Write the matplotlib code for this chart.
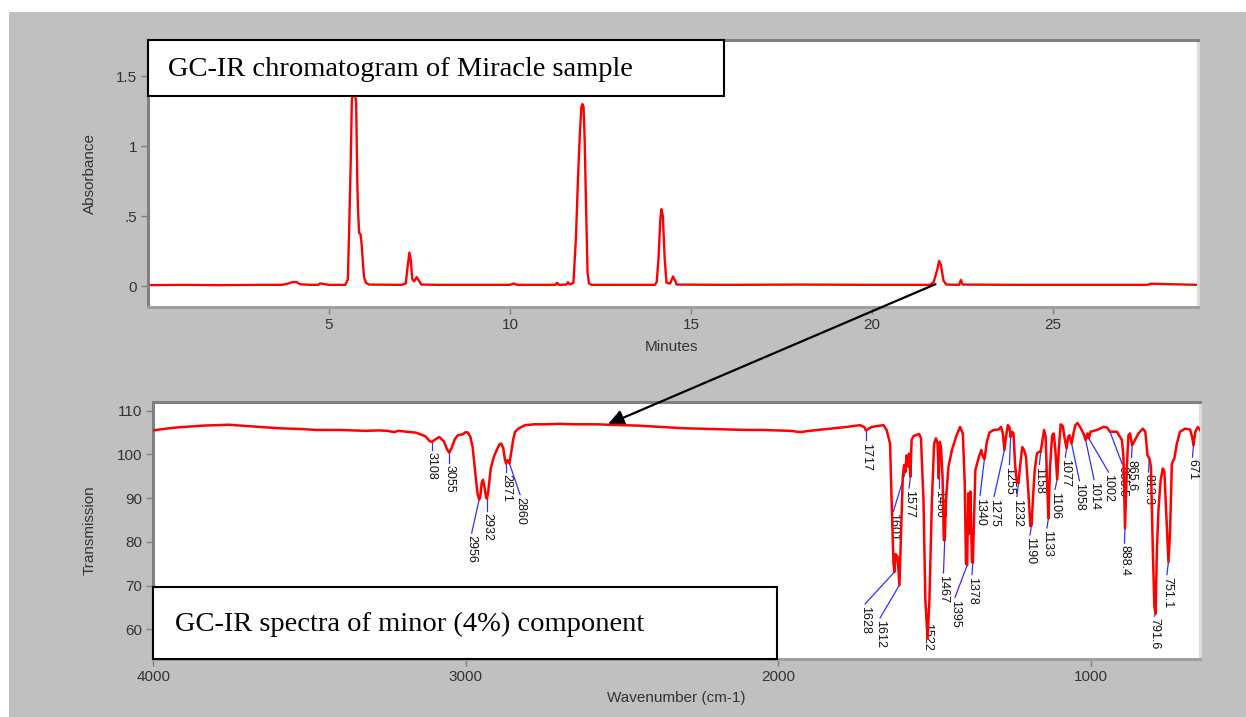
import matplotlib
matplotlib.use('Agg')
import matplotlib.pyplot as plt
from matplotlib.patches import Rectangle

# ---- GC chromatogram (minutes, absorbance) ----
gc_time = [0.0, 1.0, 2.0, 3.0, 3.7, 3.85, 4.0, 4.1, 4.2, 4.5, 4.7, 4.75, 5.0, 5.45,
           5.52, 5.56, 5.6, 5.63, 5.66, 5.72, 5.75, 5.78, 5.8, 5.83, 5.87, 5.9, 5.94,
           5.97, 6.02, 6.1, 7.0, 7.12, 7.17, 7.22, 7.26, 7.3, 7.35, 7.42, 7.48, 7.55,
           8.0, 9.0, 10.0, 10.1, 10.2, 11.0, 11.25, 11.3, 11.35, 11.55, 11.6, 11.65,
           11.75, 11.82, 11.88, 11.93, 11.97, 12.0, 12.03, 12.06, 12.1, 12.14, 12.18,
           12.25, 13.0, 14.0, 14.05, 14.1, 14.15, 14.18, 14.22, 14.27, 14.32, 14.42,
           14.5, 14.56, 14.6, 16.0, 18.0, 20.0, 21.6, 21.7, 21.8, 21.85, 21.9, 21.97,
           22.05, 22.4, 22.45, 22.5, 24.0, 26.0, 27.6, 27.7, 29.0]
gc_abs = [0.008, 0.01, 0.008, 0.01, 0.01, 0.018, 0.03, 0.03, 0.014, 0.01, 0.01, 0.02, 0.01, 0.01,
          0.05, 0.45, 0.9, 1.33, 1.37, 1.37, 1.3, 0.75, 0.55, 0.38, 0.37, 0.3, 0.15,
          0.06, 0.025, 0.012, 0.01, 0.02, 0.14, 0.24, 0.18, 0.05, 0.035, 0.065, 0.04, 0.012,
          0.01, 0.01, 0.01, 0.02, 0.01, 0.01, 0.01, 0.025, 0.01, 0.012, 0.028, 0.012,
          0.025, 0.35, 0.8, 1.1, 1.28, 1.3, 1.28, 1.05, 0.55, 0.1, 0.02,
          0.01, 0.01, 0.01, 0.03, 0.2, 0.48, 0.55, 0.5, 0.2, 0.025, 0.02,
          0.07, 0.04, 0.012, 0.01, 0.012, 0.01, 0.01, 0.03, 0.12, 0.18, 0.15, 0.04,
          0.012, 0.01, 0.045, 0.012, 0.01, 0.01, 0.01, 0.018, 0.01]

gc_xticks = [5, 10, 15, 20, 25]
gc_yticks = [0, 0.5, 1, 1.5]
gc_yticklabels = ['0', '.5', '1', '1.5']

# ---- IR spectrum of the minor component (wavenumber, transmission) ----
ir_wn = [4000, 3960, 3920, 3880, 3840, 3800, 3760, 3720, 3680, 3640, 3600, 3560, 3520,
         3480, 3440, 3400, 3360, 3320, 3280, 3250, 3230, 3215, 3190, 3160, 3130, 3115,
         3108, 3100, 3085, 3070, 3060, 3053, 3045, 3035, 3025, 3010, 3000, 2993, 2985,
         2978, 2972, 2967, 2962, 2957, 2953, 2949, 2945, 2940, 2935, 2932, 2928, 2920,
         2910, 2901, 2893, 2887, 2880, 2875, 2871, 2866, 2860, 2855, 2848, 2842, 2830,
         2810, 2780, 2740, 2700, 2660, 2620, 2580, 2545, 2500, 2450, 2400, 2350, 2304,
         2250, 2200, 2150, 2100, 2050, 2000, 1960, 1930, 1900, 1860, 1820, 1780, 1750,
         1738, 1725, 1719, 1701, 1663, 1653, 1642, 1637, 1631, 1628, 1624, 1618, 1612,
         1607, 1601, 1597, 1593, 1589, 1584, 1581, 1577, 1573, 1567, 1549, 1543, 1535,
         1529, 1522, 1516, 1508, 1501, 1495, 1490, 1486, 1483, 1479, 1474, 1470, 1467,
         1463, 1455, 1444, 1431, 1418, 1409, 1403, 1399, 1395, 1392, 1388, 1385, 1380,
         1377, 1373, 1369, 1362, 1356, 1350, 1345, 1340, 1332, 1324, 1311, 1295, 1287,
         1281, 1276, 1271, 1265, 1260, 1256, 1251, 1247, 1242, 1236, 1231, 1226, 1219,
         1213, 1207, 1199, 1193, 1189, 1185, 1179, 1172, 1165, 1160, 1154, 1149, 1144,
         1139, 1135, 1130, 1123, 1118, 1113, 1107, 1102, 1096, 1089, 1084, 1077, 1072,
         1068, 1061, 1055, 1049, 1042, 1034, 1023, 1016, 1010, 1006, 1000, 980, 959,
         948, 938, 916, 900, 895, 890, 884, 879, 874, 867, 861, 847, 833, 825, 818, 812,
         807, 801, 796, 792, 788, 783, 776, 769, 764, 756, 751, 746, 740, 732, 724, 714,
         698, 682, 675, 671, 665, 657, 650]
ir_T = [105.5, 105.9, 106.2, 106.4, 106.6, 106.7, 106.8, 106.6, 106.4, 106.2, 106.0, 105.9, 105.8,
        105.6, 105.6, 105.6, 105.5, 105.4, 105.5, 105.4, 105.1, 105.4, 105.2, 105.0, 104.2, 103.0,
        102.9, 103.3, 104.0, 103.0, 101.2, 100.4, 101.5, 103.5, 104.4, 104.6, 105.1, 105.0, 104.0,
        101.7, 97.5, 94.1, 91.0, 89.7, 90.5, 93.5, 94.2, 92.5, 90.2, 89.9, 91.5, 96.8,
        99.5, 101.0, 102.2, 102.5, 101.5, 99.0, 97.9, 98.7, 97.9, 100.2, 103.5, 105.2, 106.0,
        106.7, 106.9, 106.9, 107.0, 106.9, 106.9, 106.9, 106.8, 106.7, 106.6, 106.4, 106.2, 106.0,
        105.9, 105.8, 105.7, 105.6, 105.6, 105.5, 105.4, 105.1, 105.4, 105.7, 106.0, 106.3, 106.6,
        106.7, 106.3, 105.5, 106.3, 106.7, 105.6, 102.5, 89.5, 75.0, 73.1, 77.2, 76.6, 70.1,
        81.9, 95.3, 97.6, 96.0, 99.8, 97.2, 100.2, 94.9, 103.3, 104.2, 104.7, 103.7, 89.5,
        66.7, 57.9, 66.7, 89.5, 102.5, 103.7, 102.5, 94.5, 102.9, 101.7, 94.9, 80.4, 80.4,
        89.5, 97.2, 101.0, 104.0, 106.3, 104.8, 93.4, 75.0, 74.7, 91.1, 81.9, 91.5, 75.4,
        75.2, 85.7, 96.4, 98.3, 99.8, 101.0, 99.6, 98.9, 102.9, 105.0, 105.6, 105.7, 106.3,
        104.8, 101.0, 104.0, 106.7, 106.3, 104.0, 105.2, 104.8, 97.9, 93.7, 93.4, 97.2, 101.7,
        101.0, 99.5, 91.1, 83.6, 83.8, 89.5, 96.4, 100.2, 100.6, 100.6, 103.3, 105.6, 104.0,
        92.6, 85.4, 97.2, 104.4, 104.8, 101.0, 94.3, 101.0, 106.9, 106.5, 104.0, 101.4, 104.0,
        104.4, 102.5, 104.8, 106.7, 107.2, 106.3, 104.8, 103.3, 104.8, 103.7, 105.2, 105.6, 106.3,
        106.2, 105.2, 105.2, 103.3, 99.5, 83.1, 97.2, 104.4, 104.8, 102.1, 102.9, 104.8, 105.9, 105.2, 99.8, 99.1,
        97.2, 78.1, 65.1, 63.6, 78.1, 87.3, 94.1, 96.8, 96.0, 83.4, 75.4, 81.9, 97.9, 99.1, 102.5, 105.2,
        105.9, 105.7, 104.0, 102.1, 105.2, 106.3, 105.6]

ir_xticks = [4000, 3000, 2000, 1000]
ir_yticks = [60, 70, 80, 90, 100, 110]

# peak labels: text, point on curve, where the label text starts
peak_labels = ['3108', '3055', '2956', '2932', '2871', '2860', '1717', '1628', '1612',
               '1601', '1577', '1522', '1486', '1467', '1395', '1378', '1340', '1275',
               '1255', '1232', '1190', '1158', '1133', '1106', '1077', '1058', '1014',
               '1002', '955.5', '865.6', '888.4', '813.3', '791.6', '751.1', '671']
peak_wn = [3108, 3053, 2957, 2932, 2871, 2860, 1719, 1628, 1612,
           1593, 1577, 1522, 1486, 1467, 1395, 1377, 1340, 1276,
           1256, 1231, 1189, 1160, 1135, 1107, 1077, 1061, 1016,
           1006, 938, 867, 890, 812, 792, 751, 671]
peak_T = [102.9, 100.4, 89.7, 89.9, 97.9, 97.9, 105.5, 73.1, 70.1,
          96.0, 94.9, 63.0, 94.5, 80.4, 74.7, 75.2, 98.9, 101.0,
          104.0, 93.4, 83.8, 100.6, 85.4, 94.3, 101.4, 102.5, 103.3,
          103.7, 105.2, 102.1, 83.1, 99.1, 63.6, 75.4, 102.1]
label_wn = [3108, 3053, 2981, 2932, 2871, 2826, 1719, 1722, 1674,
            1631, 1581, 1522, 1486, 1471, 1434, 1380, 1354, 1309,
            1260, 1236, 1194, 1164, 1140, 1114, 1081, 1036, 989,
            943, 899, 869, 892, 815, 796, 756, 674]
label_T = [100.6, 97.6, 81.5, 86.5, 95.5, 90.3, 102.7, 65.3, 62.1,
           86.5, 91.8, 61.5, 91.8, 72.4, 66.8, 72.0, 90.1, 89.9,
           97.2, 89.9, 81.1, 97.2, 82.7, 91.5, 98.9, 93.5, 93.7,
           95.5, 97.3, 98.8, 79.2, 95.5, 62.5, 72.0, 98.9]

plt.rcParams['font.family'] = ['Liberation Sans', 'DejaVu Sans']

W, H = 1246, 717
fig = plt.figure(figsize=(W / 100, H / 100), dpi=100)
fig.patch.set_facecolor('white')
fig.patches.append(Rectangle((9 / W, 0), 1, 1 - 12 / H, transform=fig.transFigure,
                             facecolor='#c0c0c0', edgecolor='none', zorder=-10))

ax1 = fig.add_axes([148 / W, 1 - 307 / H, (1198 - 148) / W, (307 - 40) / H])
ax2 = fig.add_axes([153.3 / W, 1 - 659 / H, (1200 - 153.3) / W, (659 - 402) / H])


def style_axes(ax):
    ax.set_facecolor('white')
    ax.spines['left'].set_color('#808080')
    ax.spines['top'].set_color('#808080')
    ax.spines['bottom'].set_color('#a0a0a0')
    ax.spines['right'].set_color('#dcdcdc')
    for s in ax.spines.values():
        s.set_linewidth(2.2)
    ax.tick_params(direction='out', length=5, width=1, color='#808080',
                   labelsize=11, labelcolor='#333333', pad=3)


# top: chromatogram
ax1.plot(gc_time, gc_abs, color='red', lw=1.7)
ax1.set_xlim(0, 29)
ax1.set_ylim(-0.148, 1.757)
ax1.set_xticks(gc_xticks)
ax1.set_yticks(gc_yticks)
ax1.set_yticklabels(gc_yticklabels)
style_axes(ax1)
ax1.set_xlabel('Minutes', fontsize=11, color='#333333')
ax1.set_ylabel('Absorbance', fontsize=11, color='#333333')
ax1.xaxis.set_label_coords(0.499, -0.125)
ax1.yaxis.set_label_coords(-0.049, 0.5)

# bottom: IR spectrum
ax2.plot(ir_wn, ir_T, color='red', lw=1.8, zorder=4)
ax2.set_xlim(4000, 650)
ax2.set_ylim(53.2, 112)
ax2.set_xticks(ir_xticks)
ax2.set_yticks(ir_yticks)
style_axes(ax2)
ax2.set_xlabel('Wavenumber (cm-1)', fontsize=11, color='#333333')
ax2.set_ylabel('Transmission', fontsize=11, color='#333333')
ax2.xaxis.set_label_coords(0.4994, -0.125)
ax2.yaxis.set_label_coords(-0.054, 0.5)

for lab, px, py, lx, ly in zip(peak_labels, peak_wn, peak_T, label_wn, label_T):
    ax2.plot([px, lx], [py, ly + 0.5], color='#3030ff', lw=0.9, zorder=3)
    ax2.text(lx, ly, lab, rotation=270, ha='center', va='top', fontsize=9,
             color='#111111', zorder=3)

# arrow from the minor GC peak to its spectrum
ax2.annotate('', xy=(2545, 106.9), xycoords='data',
             xytext=(21.75, 0.015), textcoords=ax1.transData,
             arrowprops=dict(arrowstyle='-|>', color='black', lw=1.6,
                             mutation_scale=24, shrinkA=0, shrinkB=0),
             annotation_clip=False)

# caption boxes
for (x0, y0, x1, y1), txt, tx in [((148, 40, 724, 96), 'GC-IR chromatogram of Miracle sample', 168),
                                  ((153, 587, 777, 659), 'GC-IR spectra of minor (4%) component', 175)]:
    fig.patches.append(Rectangle((x0 / W, 1 - y1 / H), (x1 - x0) / W, (y1 - y0) / H,
                                 transform=fig.transFigure, facecolor='white',
                                 edgecolor='black', lw=1.5, zorder=5))
    fig.text(tx / W, 1 - ((y0 + y1) / 2 + 1) / H, txt, fontsize=20.5,
             family='Liberation Serif', va='center', ha='left', zorder=6)

fig.savefig('out.png', dpi=100)
